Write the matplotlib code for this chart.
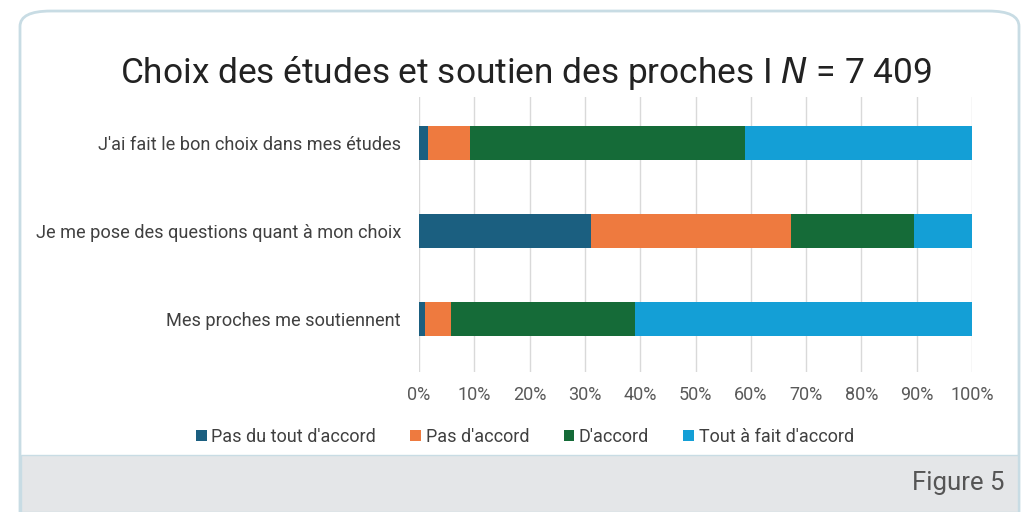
import matplotlib.pyplot as plt
from matplotlib.patches import FancyBboxPatch, Rectangle
from matplotlib import font_manager
import numpy as np

# Données (en %)
categories = ["J'ai fait le bon choix dans mes études",
              "Je me pose des questions quant à mon choix",
              "Mes proches me soutiennent"]
series_names = ["Pas du tout d'accord", "Pas d'accord", "D'accord", "Tout à fait d'accord"]
pas_du_tout = [1.6, 31.1, 1.1]
pas_accord = [7.7, 36.1, 4.6]
accord = [49.6, 22.4, 33.4]
tout_a_fait = [41.1, 10.4, 60.9]
colors = ["#1B5F80", "#EE7A3F", "#156B38", "#149FD6"]
x_ticks = list(range(0, 101, 10))

W, H = 1023, 512
fig = plt.figure(figsize=(W / 100, H / 100), dpi=100)

names = {f.name for f in font_manager.fontManager.ttflist}
narrow = "Liberation Sans Narrow" if "Liberation Sans Narrow" in names else "Roboto"

# cadre arrondi + bande grise
box = FancyBboxPatch((20 / W, -0.1), 999 / W, (H - 10) / H + 0.1 - 0.002,
                     boxstyle="round,pad=0,rounding_size=0.03",
                     transform=fig.transFigure, facecolor="white",
                     edgecolor="#C8DCE4", linewidth=2, zorder=0)
fig.patches.append(box)
band = Rectangle((21 / W, 0), 997 / W, (H - 455) / H, transform=fig.transFigure,
                 facecolor="#E4E6E8", edgecolor="#C8DCE4", linewidth=1, zorder=1)
fig.patches.append(band)
fig.text(1005 / W, 1 - 483 / H, "Figure 5", ha="right", va="center",
         fontsize=18.5, color="#555555", family="Roboto")

fig.text(526 / W, 1 - 73 / H, "Choix des études et soutien des proches I $\\it{N}$ = 7 409",
         ha="center", va="center", fontsize=25.4, color="#222222", family="Roboto")

ax = fig.add_axes([419 / W, 1 - 372 / H, (972 - 419) / W, (372 - 97) / H])
ax.set_zorder(3)
ax.patch.set_alpha(0)
y = np.arange(len(categories))
left = np.zeros(len(categories))
for vals, name, c in zip([pas_du_tout, pas_accord, accord, tout_a_fait], series_names, colors):
    ax.barh(y, vals, left=left, height=0.39, color=c, label=name, zorder=2)
    left += np.array(vals)

ax.set_xlim(0, 100)
ax.set_ylim(2.6, -0.52)
ax.set_yticks(y)
ax.set_yticklabels(categories, fontsize=13.1, color="#404040", family=narrow)
ax.set_xticks(x_ticks)
ax.set_xticklabels([f"{v}%" for v in x_ticks], fontsize=13, color="#595959", family=narrow)
ax.tick_params(length=0, axis="y", pad=13)
ax.tick_params(length=0, axis="x", pad=10)
ax.grid(axis="x", color="#D9D9D9", linewidth=1, zorder=0)
for s in ax.spines.values():
    s.set_visible(False)

leg = fig.legend(loc="center", bbox_to_anchor=(525 / W, 1 - 437 / H), ncol=4,
                 frameon=False, handlelength=0.6, handleheight=0.6,
                 handletextpad=0.25, columnspacing=1.9,
                 prop={"family": narrow, "size": 13})
leg.set_zorder(4)
for t in leg.get_texts():
    t.set_color("#404040")

fig.savefig("out.png", dpi=100)
